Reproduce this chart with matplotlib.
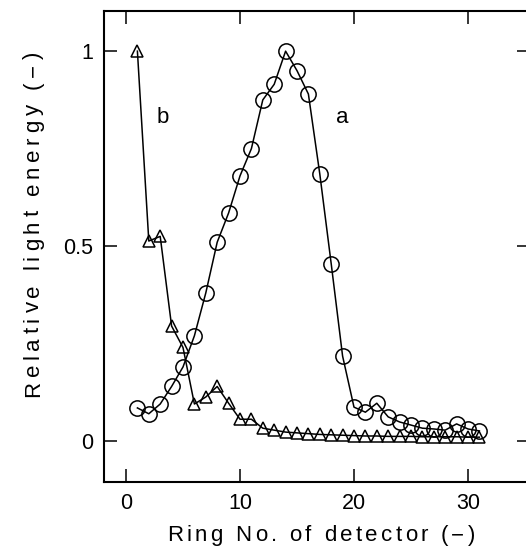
import numpy as np
import matplotlib
matplotlib.use('Agg')
from matplotlib import pyplot as plt

plt.rcParams['font.family'] = ['Liberation Sans', 'DejaVu Sans']

# ring numbers of the detector
rings = list(range(1, 32))

# curve a (circles)
energy_a = [0.085, 0.070, 0.095, 0.140, 0.190, 0.270, 0.380, 0.510, 0.585, 0.680,
            0.750, 0.875, 0.915, 1.000, 0.950, 0.890, 0.685, 0.455, 0.218, 0.087,
            0.074, 0.097, 0.062, 0.049, 0.041, 0.033, 0.031, 0.028, 0.044, 0.031,
            0.026]

# curve b (triangles)
energy_b = [1.000, 0.513, 0.525, 0.295, 0.240, 0.095, 0.113, 0.140, 0.097, 0.056,
            0.056, 0.033, 0.028, 0.023, 0.021, 0.019, 0.017, 0.016, 0.015, 0.014,
            0.013, 0.013, 0.012, 0.012, 0.012, 0.011, 0.011, 0.011, 0.011, 0.010,
            0.010]

x_ticks = [0, 10, 20, 30]
y_ticks = [0, 0.5, 1]
y_tick_labels = ['0', '0.5', '1']

W, H = 526, 552
fig = plt.figure(figsize=(W / 100, H / 100), dpi=100)
ax = fig.add_axes([104 / W, 1 - 482 / H, 426 / W, 471 / H])

ax.plot(rings, energy_a, color='black', lw=1.1, marker='o', ms=11,
        mfc='none', mec='black', mew=1.1)
ax.plot(rings, energy_b, color='black', lw=1.1, marker='^', ms=8.5,
        mfc='none', mec='black', mew=1.1)

ax.text(3.2, 0.83, 'b', fontsize=16, ha='center', va='center')
ax.text(19.0, 0.83, 'a', fontsize=16, ha='center', va='center')

ax.set_xlim(-1.93, 35.44)
ax.set_ylim(-0.105, 1.103)
ax.set_xticks(x_ticks)
ax.set_yticks(y_ticks)
ax.set_yticklabels(y_tick_labels)

ax.tick_params(direction='in', length=9.5, width=1.1, labelsize=15.5,
               top=True, right=True, pad=8)
for sp in ax.spines.values():
    sp.set_linewidth(1.5)


# the axis titles in the original are widely letter-spaced,
# so they are laid out one character at a time
renderer = fig.canvas.get_renderer()


def char_width(c, size):
    t1 = fig.text(0, 0, '|' + c + '|', fontsize=size)
    t2 = fig.text(0, 0, '||', fontsize=size)
    w = t1.get_window_extent(renderer).width - t2.get_window_extent(renderer).width
    t1.remove()
    t2.remove()
    return w


def spaced_label(s, start, end, base, size, vertical=False):
    # start/end in picture pixels; vertical text runs upwards (end < start)
    widths = [char_width(c, size) for c in s]
    gap = (abs(end - start) - sum(widths)) / (len(s) - 1)
    pos = start
    for c, w in zip(s, widths):
        if vertical:
            fig.text(base / W, 1 - pos / H, c, fontsize=size, rotation=90,
                     rotation_mode='anchor', ha='left', va='baseline')
            pos -= w + gap
        else:
            fig.text(pos / W, 1 - base / H, c, fontsize=size,
                     ha='left', va='baseline')
            pos += w + gap


spaced_label('Ring No. of detector (\u2212)', 167, 475, 541, 16)
spaced_label('Relative light energy (\u2212)', 397, 52, 39, 16, vertical=True)

fig.savefig('out.png', dpi=100)
